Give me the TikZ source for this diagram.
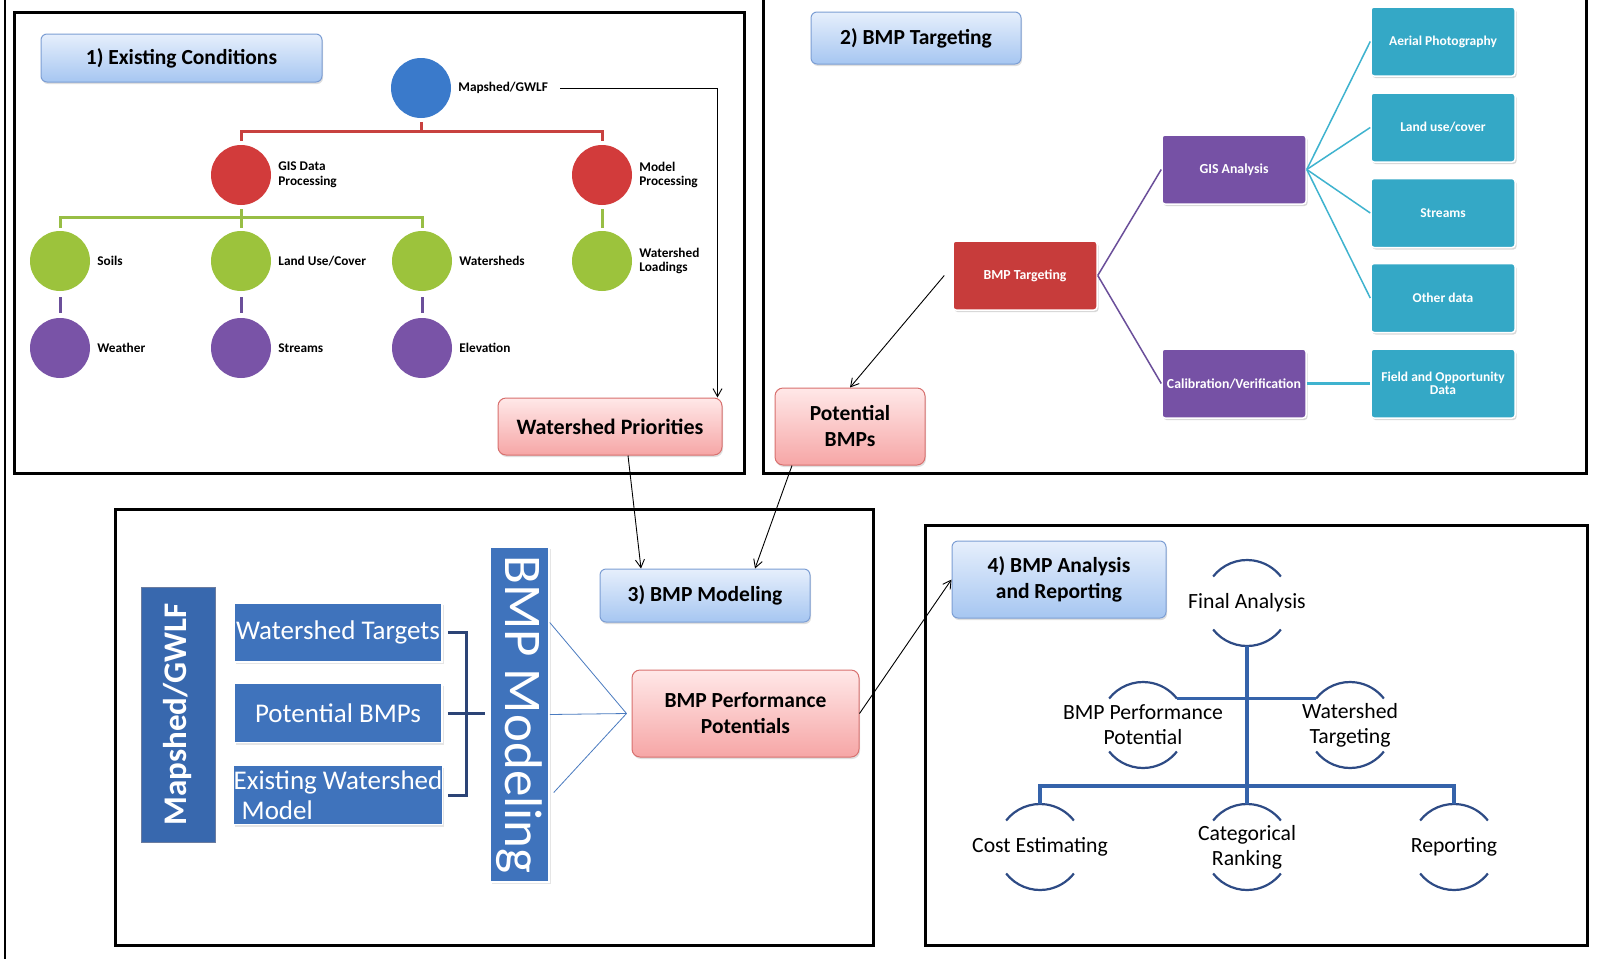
\documentclass[tikz,border=0pt]{standalone}
\usepackage{fontspec}
\setmainfont{Carlito}
\usetikzlibrary{positioning,calc,shadows,arrows.meta}
\definecolor{cblue}{HTML}{3A7ACB}
\definecolor{cred}{HTML}{D23B3B}
\definecolor{cgreen}{HTML}{9CC33C}
\definecolor{cpurple}{HTML}{7953A7}
\definecolor{lred}{HTML}{C8413F}
\definecolor{lgreen}{HTML}{98BE45}
\definecolor{lpurple}{HTML}{6B4F9A}
\definecolor{tealfill}{HTML}{34A8C6}
\definecolor{tealedge}{HTML}{3FB3CF}
\definecolor{boxred}{HTML}{C73C3B}
\definecolor{boxpurple}{HTML}{7651A5}
\definecolor{mblue}{HTML}{3F73BC}
\definecolor{dblue}{HTML}{3868AE}
\definecolor{navy}{HTML}{2C4476}
\definecolor{arccol}{HTML}{2E4B85}
\definecolor{barcol}{HTML}{3563AA}
\definecolor{titletop}{HTML}{E6EFFC}
\definecolor{titlebot}{HTML}{A6C6F1}
\definecolor{titleedge}{HTML}{7C9ED4}
\definecolor{pinktop}{HTML}{FFE8E8}
\definecolor{pinkbot}{HTML}{F6A6A6}
\definecolor{pinkedge}{HTML}{D8706E}
\definecolor{thinblue}{HTML}{4A7BC0}
\begin{document}
\begin{tikzpicture}[x=1pt,y=-1pt]
 \tikzset{
  directed/.style={-{Straight Barb[length=8pt,width=9pt]}, line width=0.9pt},
  frame/.style={line width=3pt},
  titlebox/.style={draw=titleedge, line width=1pt, rounded corners=6pt, top color=titletop, bottom color=titlebot,
    drop shadow={opacity=0.25,shadow xshift=1pt,shadow yshift=-2pt}, font=\bfseries\fontsize{21.5}{26}\selectfont, align=center},
  pinkbox/.style={draw=pinkedge, line width=1pt, rounded corners=8pt, top color=pinktop, bottom color=pinkbot,
    drop shadow={opacity=0.25,shadow xshift=1pt,shadow yshift=-2pt}, font=\bfseries\fontsize{21.5}{26}\selectfont, align=center},
  dot/.style={circle, minimum size=60pt, inner sep=0pt},
  dotlabel/.style={font=\bfseries\fontsize{13.3}{14.5}\selectfont, align=left, inner sep=0pt},
  smartbox/.style={draw=white, line width=1.5pt, rounded corners=3pt, minimum width=144pt, minimum height=69pt, text=white,
    font=\bfseries\fontsize{13.8}{14}\selectfont, align=center, inner sep=1pt,
    drop shadow={opacity=0.3,shadow xshift=1.5pt,shadow yshift=-2pt}},
  tealbox/.style={smartbox, fill=tealfill, font=\bfseries\fontsize{13.5}{13.5}\selectfont},
  bluebox/.style={fill=mblue, draw=white, line width=1.5pt, text=white, minimum width=208pt, minimum height=59pt,
    font=\fontsize{27}{30}\selectfont, inner sep=0pt, align=left,
    drop shadow={opacity=0.2,shadow xshift=1.5pt,shadow yshift=-2pt}},
  purpleline/.style={draw=lpurple, line width=1.5pt},
  tealline/.style={draw=tealedge, line width=1.5pt},
  thinline/.style={draw=thinblue, line width=0.8pt},
  bracket/.style={draw=navy, line width=3pt},
  hubtext/.style={font=\fontsize{21.7}{25}\selectfont, align=center, inner sep=0pt},
  hubarc/.style={draw=arccol, line width=2.2pt},
  hubline/.style={draw=barcol, line width=3.5pt},
 }
 \useasboundingbox (0,0) rectangle (1606,959);
 \fill[white] (0,0) rectangle (1606,959);
 \draw[line width=1.5pt] (5,0) -- (5,959);

 \draw[frame] (14,12) rectangle (744,473);
 \draw[frame] (763,-5) -- (763,473) -- (1586,473) -- (1586,-5);
 \draw[frame] (115,509) rectangle (873,945);
 \draw[frame] (925,525) rectangle (1587,945);

 \node[titlebox, minimum width=281pt, minimum height=48pt] (t1) at (181.5,58) {1) Existing Conditions};
 \node[dot, fill=cblue] (ms) at (421,88) {};
 \node[dot, fill=cred] (gisp) at (241,175) {};
 \node[dot, fill=cred] (modp) at (602,175) {};
 \node[dot, fill=cgreen] (soils) at (60,261) {};
 \node[dot, fill=cgreen] (luc) at (241,261) {};
 \node[dot, fill=cgreen] (wsh) at (422,261) {};
 \node[dot, fill=cgreen] (wld) at (602,261) {};
 \node[dot, fill=cpurple] (weather) at (60,348) {};
 \node[dot, fill=cpurple] (strm) at (241,348) {};
 \node[dot, fill=cpurple] (elev) at (422,348) {};
 \node[dotlabel, right=7pt of ms] (ms-l) {Mapshed/GWLF};
 \node[dotlabel, right=7pt of gisp] (gisp-l) {GIS Data\\Processing};
 \node[dotlabel, right=7pt of modp] (modp-l) {Model\\Processing};
 \node[dotlabel, right=7pt of soils] (soils-l) {Soils};
 \node[dotlabel, right=7pt of luc] (luc-l) {Land Use/Cover};
 \node[dotlabel, right=7pt of wsh] (wsh-l) {Watersheds};
 \node[dotlabel, right=7pt of wld] (wld-l) {Watershed\\Loadings};
 \node[dotlabel, right=7pt of weather] (weather-l) {Weather};
 \node[dotlabel, right=7pt of strm] (strm-l) {Streams};
 \node[dotlabel, right=7pt of elev] (elev-l) {Elevation};
 \draw[draw=lred, line width=3pt] ([yshift=-4pt]ms.south) -- ++(0,10);
 \draw[draw=lred, line width=3pt] ([yshift=4pt]gisp.north) -- ++(0,-9) -| ([yshift=4pt]modp.north);
 \draw[draw=lgreen, line width=3pt] ([yshift=-4pt]gisp.south) -- ++(0,9);
 \draw[draw=lgreen, line width=3pt] ([yshift=3pt]soils.north) -- ++(0,-10) -| ([yshift=3pt]wsh.north);
 \draw[draw=lgreen, line width=3pt] ([yshift=3pt]luc.north) -- ++(0,-10);
 \draw[draw=lgreen, line width=3pt] ([yshift=-4pt]modp.south) -- ([yshift=3pt]wld.north);
 \draw[draw=lpurple, line width=3pt] ([yshift=-6pt]soils.south) -- ([yshift=5pt]weather.north);
 \draw[draw=lpurple, line width=3pt] ([yshift=-6pt]luc.south) -- ([yshift=5pt]strm.north);
 \draw[draw=lpurple, line width=3pt] ([yshift=-6pt]wsh.south) -- ([yshift=5pt]elev.north);
 \node[pinkbox, minimum width=224pt, minimum height=57pt, font=\bfseries\fontsize{22}{26}\selectfont] (wp) at (610,426.5) {Watershed Priorities};
 \draw[directed] ([xshift=12pt]ms-l.east) -| ([xshift=-5pt]wp.north east);

 \node[titlebox, minimum width=210pt, minimum height=52pt] (t2) at (916,38) {2) BMP Targeting};
 \node[smartbox, fill=boxred] (bt) at (1025,275.5) {BMP Targeting};
 \node[smartbox, fill=boxpurple] (gis) at (1234,169.5) {GIS Analysis};
 \node[smartbox, fill=boxpurple] (cal) at (1234,383.5) {Calibration/Verification};
 \node[tealbox] (ap) at (1443,41.5) {Aerial Photography};
 \node[tealbox] (lu) at (1443,127.5) {Land use/cover};
 \node[tealbox] (st) at (1443,213) {Streams};
 \node[tealbox] (od) at (1443,298) {Other data};
 \node[tealbox] (fo) at (1443,383.5) {Field and Opportunity\\Data};
 \draw[purpleline] (bt.east) -- (gis.west);
 \draw[purpleline] (bt.east) -- (cal.west);
 \foreach \t in {ap,lu,st,od} \draw[tealline] (gis.east) -- (\t.west);
 \draw[tealline, line width=3pt] (cal.east) -- (fo.west);
 \node[pinkbox, minimum width=150pt, minimum height=77pt] (pb) at (850,426.5) {Potential\\BMPs};
 \draw[directed] ([xshift=-8pt]bt.west) -- (pb.north);

 \node[fill=dblue, draw=navy!70, line width=1pt, rotate=90, minimum width=255pt, minimum height=74pt, inner sep=0pt,
   text=white, font=\bfseries\fontsize{33}{36}\selectfont] (msv) at (178,714.5) {Mapshed/GWLF};
 \node[bluebox, align=center] (wt) at (338,632.5) {Watershed Targets};
 \node[bluebox, align=center] (pbm) at (338,713) {Potential BMPs};
 \node[bluebox] (ewm) at (338,795) {Existing Watershed\\\hspace*{8pt}Model};
 \draw[bracket] ([xshift=5pt]wt.east) -- ++(19,0) |- ([xshift=5pt]ewm.east);
 \draw[bracket] ([xshift=5pt]pbm.east) -- ++(37,0);
 \node[fill=mblue, draw=white, line width=1.5pt, rotate=-90, minimum width=335pt, minimum height=59pt, inner sep=0pt,
   text=white, font=\fontsize{53}{56}\selectfont, drop shadow={opacity=0.2,shadow xshift=1.5pt,shadow yshift=-2pt}] (bmv) at (519.5,714.5) {BMP Modeling};
 \node[titlebox, minimum width=210pt, minimum height=53pt] (t3) at (705,595.5) {3) BMP Modeling};
 \node[pinkbox, minimum width=227pt, minimum height=87pt] (bpp) at (745.5,713.5) {BMP Performance\\Potentials};
 \draw[thinline] ([yshift=92pt]bmv.north) -- ([xshift=-5pt]bpp.west);
 \draw[thinline] (bmv.north) -- ([xshift=-5pt]bpp.west);
 \draw[thinline] ([yshift=-78pt,xshift=4pt]bmv.north) -- ([xshift=-5pt]bpp.west);
 \draw[directed] ([xshift=18pt]wp.south) -- ([xshift=-64pt]t3.north);
 \draw[directed] ([xshift=-58pt]pb.south) -- ([xshift=50pt]t3.north);

 \node[titlebox, minimum width=214pt, minimum height=77pt] (t4) at (1059,579.5) {4) BMP Analysis\\and Reporting};
 \draw[directed] (bpp.east) -- (t4.west);
 \node[hubtext] (fa) at (1247,603) {Final Analysis};
 \node[hubtext] (bp) at (1143,725) {BMP Performance\\Potential};
 \node[hubtext] (wt2) at (1350,725) {Watershed\\Targeting};
 \node[hubtext] (ce) at (1040,847) {Cost Estimating};
 \node[hubtext] (cr) at (1247,847) {Categorical\\Ranking};
 \node[hubtext] (rp) at (1454,847) {Reporting};
 \foreach \n in {fa,bp,wt2,ce,cr,rp} {
  \draw[hubarc] (\n.center) ++(142:43pt) arc[start angle=142, end angle=38, radius=43pt];
  \draw[hubarc] (\n.center) ++(218:43pt) arc[start angle=218, end angle=322, radius=43pt];
 }
 \draw[hubline] ($(fa.center)+(0,43)$) -- ($(cr.center)+(0,-43)$);
 \draw[hubline] ($(bp.center)+(38:43pt)$) -- ($(wt2.center)+(142:43pt)$);
 \draw[hubline] ($(ce.center)+(0,-43)$) -- ++(0,-18) -| ($(rp.center)+(0,-43)$);
\end{tikzpicture}
\end{document}
